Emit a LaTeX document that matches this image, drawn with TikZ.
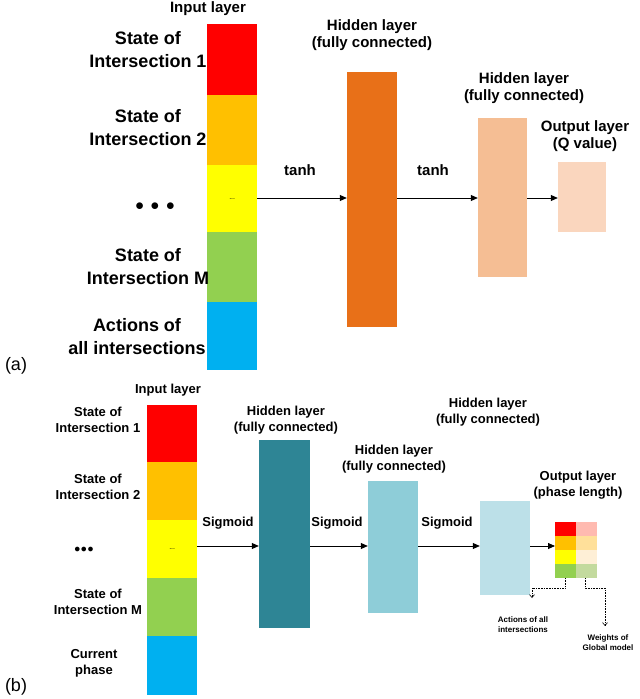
\documentclass[tikz,border=0pt]{standalone}
\usepackage{fontspec}
\setmainfont{Liberation Sans}
\usetikzlibrary{arrows.meta}
\definecolor{cR}{RGB}{255,0,0}
\definecolor{cO}{RGB}{255,192,0}
\definecolor{cY}{RGB}{255,255,0}
\definecolor{cG}{RGB}{146,208,80}
\definecolor{cB}{RGB}{0,176,240}
\begin{document}
\begin{tikzpicture}[x=1pt,y=-1pt,
 lab/.style={font=\bfseries\fontsize{15}{17}\selectfont,align=center},
 labA/.style={font=\bfseries\fontsize{18}{23}\selectfont,align=center},
 labB/.style={font=\bfseries\fontsize{13}{16}\selectfont,align=center},
 lit/.style={font=\bfseries\fontsize{8}{10}\selectfont,align=center},
 arr/.style={-{Triangle[length=7pt,width=6pt]},line width=0.8pt},
 darr/.style={-{Straight Barb[length=3pt,width=5pt]},densely dotted,line width=0.6pt}]
\useasboundingbox (0,0) rectangle (640,699);
% (a)
\fill[cR] (207,24) rectangle (257,95);
\fill[cO] (207,95) rectangle (257,165);
\node[fill=cY,minimum width=50pt,minimum height=67pt,inner sep=0,anchor=north west,font=\scriptsize] (ay) at (207,165) {...};
\fill[cG] (207,232) rectangle (257,302);
\fill[cB] (207,302) rectangle (257,370);
\node[fill={rgb,255:red,232;green,112;blue,24},minimum width=50pt,minimum height=255pt,inner sep=0] (ah1) at (372,199.5) {};
\node[fill={rgb,255:red,245;green,190;blue,148},minimum width=49pt,minimum height=159pt,inner sep=0] (ah2) at (502.5,197.5) {};
\node[fill={rgb,255:red,250;green,214;blue,190},minimum width=48pt,minimum height=70pt,inner sep=0] (ao) at (582,197) {};
\draw[arr] (ay.east|-0,198) -- (ah1.west|-0,198);
\draw[arr] (ah1.east|-0,198) -- (ah2.west|-0,198);
\draw[arr] (ah2.east|-0,198) -- (ao.west|-0,198);
\node[lab] at (300,170) {tanh};
\node[lab] at (433,170) {tanh};
\node[labA] at (148,50) {State of\\Intersection 1};
\node[labA] at (148,128) {State of\\Intersection 2};
\node[labA] at (155,207) {$\bullet\,\bullet\,\bullet$};
\node[labA] at (148,267) {State of\\Intersection M};
\node[labA] at (137,337) {Actions of\\all intersections};
\node[lab] at (208,9) {Input layer};
\node[lab] at (372,35) {Hidden layer\\(fully connected)};
\node[lab] at (524,88) {Hidden layer\\(fully connected)};
\node[lab] at (585,136) {Output layer\\(Q value)};
\node[font=\fontsize{18}{20}\selectfont] at (16,366) {(a)};
% (b)
\fill[cR] (147,405) rectangle (197,462);
\fill[cO] (147,462) rectangle (197,520);
\node[fill=cY,minimum width=50pt,minimum height=58pt,inner sep=0,anchor=north west,font=\scriptsize] (by) at (147,520) {...};
\fill[cG] (147,578) rectangle (197,636);
\fill[cB] (147,636) rectangle (197,695);
\node[fill={rgb,255:red,46;green,133;blue,149},minimum width=51pt,minimum height=188pt,inner sep=0] (bh1) at (284.5,534) {};
\node[fill={rgb,255:red,142;green,205;blue,216},minimum width=50pt,minimum height=132pt,inner sep=0] (bh2) at (393,547) {};
\node[fill={rgb,255:red,188;green,224;blue,232},minimum width=50pt,minimum height=94pt,inner sep=0] (bh3) at (505,548) {};
\coordinate (bo) at (555,546);
\draw[arr] (by.east|-0,546) -- (bh1.west|-0,546);
\draw[arr] (bh1.east|-0,546) -- (bh2.west|-0,546);
\draw[arr] (bh2.east|-0,546) -- (bh3.west|-0,546);
\draw[arr] (bh3.east|-0,546) -- (bo);
\fill[cR] (555,522) rectangle (576,536);
\fill[cO] (555,536) rectangle (576,550);
\fill[cY] (555,550) rectangle (576,564);
\fill[cG] (555,564) rectangle (576,578);
\fill[fill={rgb,255:red,255;green,186;blue,176}] (576,522) rectangle (597,536);
\fill[fill={rgb,255:red,255;green,224;blue,154}] (576,536) rectangle (597,550);
\fill[fill={rgb,255:red,254;green,239;blue,214}] (576,550) rectangle (597,564);
\fill[fill={rgb,255:red,195;green,218;blue,158}] (576,564) rectangle (597,578);
\coordinate (d1) at (565,578); \coordinate (d2) at (585,578);
\draw[darr] (d1) -- (565,588) -- (532,588) -- (532,598);
\draw[darr] (d2) -- (585,588) -- (605,588) -- (605,626);
\node[lit] at (523,625) {Actions of all\\intersections};
\node[lit] at (608,643) {Weights of\\Global model};
\node[labB] at (228,523) {Sigmoid};
\node[labB] at (337,523) {Sigmoid};
\node[labB] at (447,523) {Sigmoid};
\node[labB] at (168,390) {Input layer};
\node[labB] at (286,420) {Hidden layer\\(fully connected)};
\node[labB] at (394,459) {Hidden layer\\(fully connected)};
\node[labB] at (488,412) {Hidden layer\\(fully connected)};
\node[labB] at (578,485) {Output layer\\(phase length)};
\node[labB] at (98,420) {State of\\Intersection 1};
\node[labB] at (98,487) {State of\\Intersection 2};
\node[labB] at (84,550) {$\bullet\!\bullet\!\bullet$};
\node[labB] at (98,602) {State of\\Intersection M};
\node[labB] at (94,663) {Current\\phase};
\node[font=\fontsize{18}{20}\selectfont] at (16,687) {(b)};
\end{tikzpicture}
\end{document}
